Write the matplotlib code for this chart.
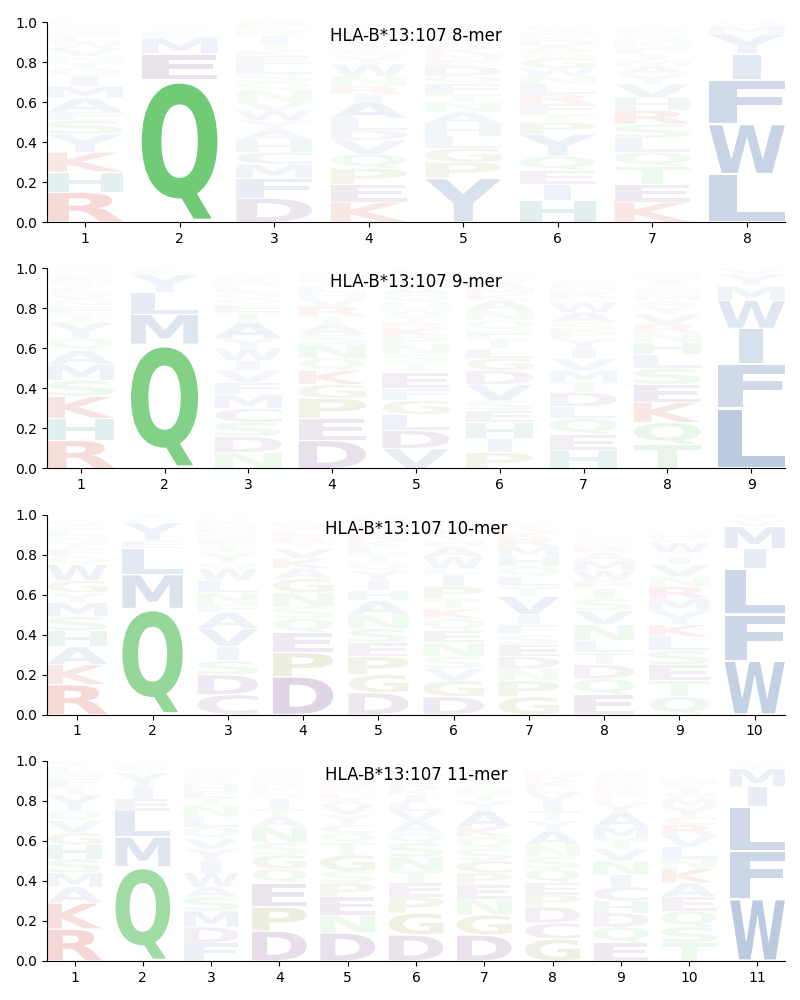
import matplotlib
matplotlib.use("Agg")
import matplotlib.pyplot as plt
from matplotlib.textpath import TextPath
from matplotlib.patches import PathPatch
from matplotlib.font_manager import FontProperties
from matplotlib.transforms import Affine2D
from matplotlib.colors import to_rgb

allele = "HLA-B*13:107"
lengths = [8, 9, 10, 11]

# letters per position, stacked bottom -> top, with their heights
mer8_letters = ["RHKYSFAMIQTNVWLDPCG", "QEMLYSTV", "DFMCHAYWVNQSLEKTIRGP",
                "KEPQVDLAIRNWYSTGFHM", "YPGLHANTFQDEMKRSVIWC", "HIEQYPTFRLNWGSADKMVC",
                "KETQLSRHVYAMIFNDGPWC", "LWFIYMV"]
mer8_heights = [
    [.15, .10, .10, .09, .07, .04, .07, .06, .05, .04, .03, .03, .04, .03, .03, .02, .02, .01, .02],
    [.71, .13, .08, .03, .02, .01, .01, .01],
    [.12, .10, .07, .06, .06, .05, .05, .05, .04, .06, .04, .04, .05, .04, .03, .03, .04, .02, .02, .03],
    [.10, .09, .08, .07, .07, .05, .06, .08, .04, .04, .05, .06, .04, .03, .03, .03, .03, .02, .02],
    [.22, .08, .07, .06, .06, .06, .05, .04, .05, .04, .05, .03, .03, .03, .02, .03, .03, .02, .02, .01],
    [.11, .08, .07, .07, .11, .06, .04, .05, .05, .05, .04, .04, .05, .03, .03, .03, .02, .02, .02, .01],
    [.10, .09, .09, .07, .07, .07, .07, .06, .07, .05, .04, .03, .03, .03, .03, .02, .02, .02, .01, .01],
    [.24, .25, .22, .13, .10, .04, .02],
]

mer9_letters = ["RHKSMAQYTFNVLIWEGPD", "QMLYFI", "NDSCMFVIWYATEQGLPKRH",
                "DEPGKQNSATRVHLYFMW", "VDLGFETSNPKRYWHQAMIC", "PIHESVDGLTFQNAKMRWYC",
                "HEQLDTMVIYPSAWNRFKG", "TQKESLHNRVYAMFWDIGP", "LFIWMYV"]
mer9_heights = [
    [.14, .11, .11, .08, .08, .07, .06, .08, .04, .04, .03, .03, .03, .02, .02, .02, .02, .01, .01],
    [.62, .15, .11, .09, .02, .01],
    [.08, .08, .07, .07, .07, .06, .06, .05, .06, .05, .08, .05, .04, .03, .03, .03, .02, .02, .01, .01],
    [.14, .11, .10, .07, .07, .06, .07, .05, .05, .04, .05, .04, .03, .03, .02, .02, .02, .01],
    [.10, .09, .08, .07, .06, .08, .05, .04, .05, .04, .04, .03, .04, .03, .03, .04, .04, .03, .03, .02],
    [.08, .07, .08, .06, .05, .08, .07, .06, .05, .05, .04, .05, .05, .05, .03, .03, .03, .02, .02, .01],
    [.09, .08, .08, .06, .07, .05, .06, .06, .05, .05, .04, .04, .05, .05, .02, .03, .02, .02, .02],
    [.12, .11, .10, .09, .08, .07, .06, .05, .04, .05, .04, .03, .03, .02, .01, .01, .03, .02, .02],
    [.30, .22, .18, .14, .07, .06, .03],
]

mer10_letters = ["RKAHSMYGWQFTNLEVI", "QMLEYFI", "CDSIVAFNLWQYTEGHMKRP",
                 "DPEQSNGAKVTRLYHIF", "DGPESNAHIYQTLKRVFMW", "DGVSNEQKTPILWAHYFMRC",
                 "GPNDESFIVTLQHMRKWYC", "EQDTLNVSIPWMARKGFH", "QTESLKYMRNVIAWFHG", "WFLIMVY"]
mer10_heights = [
    [.15, .10, .09, .08, .07, .07, .05, .06, .08, .04, .04, .03, .03, .03, .02, .02, .02],
    [.53, .17, .13, .04, .09, .02, .02],
    [.10, .10, .07, .07, .09, .08, .04, .06, .06, .06, .03, .05, .04, .03, .03, .02, .02, .02, .01, .01],
    [.19, .12, .10, .07, .06, .07, .07, .05, .05, .05, .03, .03, .03, .02, .02, .01, .01],
    [.11, .09, .09, .07, .07, .07, .07, .05, .05, .05, .04, .04, .04, .03, .03, .03, .03, .02, .01],
    [.09, .08, .06, .06, .07, .06, .06, .05, .05, .06, .06, .03, .06, .05, .03, .03, .03, .02, .02, .01],
    [.09, .08, .06, .06, .06, .05, .05, .05, .09, .05, .05, .05, .05, .05, .04, .03, .02, .02, .01],
    [.10, .08, .07, .06, .06, .08, .07, .06, .05, .04, .05, .05, .04, .03, .02, .02, .02, .01],
    [.09, .08, .08, .07, .07, .06, .07, .06, .06, .05, .06, .04, .02, .05, .02, .02, .01],
    [.27, .23, .23, .10, .11, .03, .03],
]

mer11_letters = ["RKAMSHGVQYTFNLIE", "QMLEIYVFS", "FDMSAWIYVQLNTEHKRGCP",
                 "DPEQGSNATIVLKRFMHWY", "DNEPSGTQCYVALKRHFM", "DGPETNSQAVLIKRYHFMW",
                 "DGNEPCSQKAYTHLIVRMF", "GCDPEQSNAYTIVLKRHF", "EQDHCINVTMAYLSKRGFW",
                 "TSQEAKNLVRCYMWIFH", "WFLIMYV"]
mer11_heights = [
    [.16, .13, .08, .07, .07, .07, .06, .06, .05, .08, .04, .04, .03, .03, .02, .02],
    [.47, .15, .13, .06, .06, .07, .02, .02, .01],
    [.09, .08, .08, .07, .05, .07, .06, .06, .05, .06, .05, .06, .04, .03, .03, .02, .02, .02, .02, .01],
    [.15, .12, .12, .07, .07, .06, .08, .05, .04, .05, .02, .02, .02, .02, .01, .01, .01, .02, .02],
    [.14, .09, .09, .07, .06, .08, .06, .05, .04, .05, .05, .03, .03, .02, .02, .02, .02, .01],
    [.13, .11, .08, .07, .06, .07, .07, .05, .06, .05, .04, .04, .03, .03, .03, .02, .02, .02, .01],
    [.13, .10, .08, .07, .06, .06, .06, .06, .05, .08, .05, .04, .02, .02, .02, .02, .02, .01, .01],
    [.11, .08, .08, .06, .06, .07, .06, .06, .07, .05, .05, .05, .04, .03, .03, .02, .02, .01],
    [.09, .08, .07, .06, .07, .06, .07, .06, .05, .06, .07, .05, .03, .03, .02, .02, .02, .02, .01],
    [.09, .08, .08, .07, .07, .07, .05, .06, .06, .05, .04, .05, .04, .03, .03, .02, .02],
    [.31, .24, .22, .10, .09, .02, .02],
]

panels = [(mer8_letters, mer8_heights), (mer9_letters, mer9_heights),
          (mer10_letters, mer10_heights), (mer11_letters, mer11_heights)]

group_colors = {
    "AVLIMFW": "#5075AC",
    "Y": "#7896C8",
    "KR": "#C83C2D",
    "DEC": "#7D508C",
    "NQST": "#5FC364",
    "GP": "#8C8C32",
    "H": "#328787",
}
color_of = {}
for letters, c in group_colors.items():
    for ch in letters:
        color_of[ch] = to_rgb(c)

fp = FontProperties(family="DejaVu Sans", weight="bold")
glyph_cache = {}
narrow = {"I": 0.36}


def glyph(ch):
    if ch not in glyph_cache:
        glyph_cache[ch] = TextPath((0, 0), ch, size=1, prop=fp)
    return glyph_cache[ch]


def draw_letter(ax, ch, x, y0, h, width=0.8, vpad=0.05):
    path = glyph(ch)
    bb = path.get_extents()
    w = width * narrow.get(ch, 1.0)
    hh = h * (1 - vpad)
    yb = y0 + h * vpad / 2
    t = (Affine2D().translate(-bb.x0, -bb.y0)
         .scale(w / bb.width, hh / bb.height)
         .translate(x - w / 2, yb))
    alpha = min(1.0, 1.25 * h)
    r, g, b = color_of[ch]
    col = (1 - alpha + alpha * r, 1 - alpha + alpha * g, 1 - alpha + alpha * b)
    patch = PathPatch(t.transform_path(path), facecolor=col, edgecolor="none", lw=0)
    ax.add_patch(patch)


fig, axes = plt.subplots(4, 1, figsize=(8, 10), dpi=100)
fig.subplots_adjust(left=0.059, right=0.981, top=0.978, bottom=0.039, hspace=0.23)

for ax, L, (letters, heights) in zip(axes, lengths, panels):
    for i, (lets, hs) in enumerate(zip(letters, heights)):
        pos = i + 1
        y = 0.0
        for ch, h in zip(lets, hs):
            draw_letter(ax, ch, pos, y, h)
            y += h
    ax.set_xlim(0.6, L + 0.4)
    ax.set_ylim(0, 1)
    ax.set_xticks(range(1, L + 1))
    ax.set_yticks([0, 0.2, 0.4, 0.6, 0.8, 1.0])
    ax.spines["top"].set_visible(False)
    ax.spines["right"].set_visible(False)
    ax.text(0.5, 0.93, f"{allele} {L}-mer", transform=ax.transAxes,
            ha="center", va="center", fontsize=12)

fig.savefig("out.png", dpi=100)
